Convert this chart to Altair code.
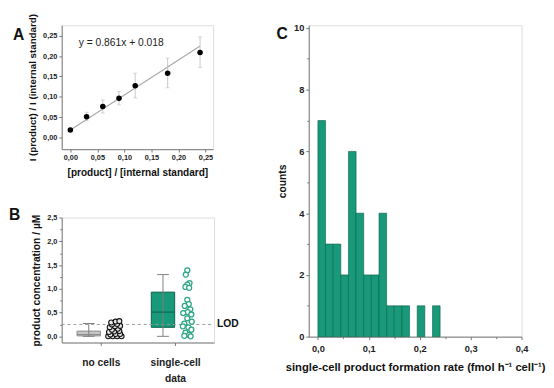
import altair as alt
import pandas as pd

FONT = "Liberation Sans"

# ---------------- Panel A: calibration ----------------
cal_x = [0.00, 0.03, 0.06, 0.09, 0.12, 0.18, 0.24]
cal_y = [0.018, 0.051, 0.076, 0.096, 0.127, 0.158, 0.209]
cal_lo = [0.015, 0.041, 0.060, 0.080, 0.097, 0.122, 0.172]
cal_hi = [0.021, 0.062, 0.092, 0.113, 0.158, 0.195, 0.247]
fit_x = [0.00, 0.24]
fit_y = [0.018, 0.225]
eq_text = ["y = 0.861x + 0.018"]
eq_x = [0.094]
eq_y = [0.231]
axA_ticks = [0.00, 0.05, 0.10, 0.15, 0.20, 0.25]

# ---------------- Panel B: box plots ----------------
groups = ["no cells", "single-cell data"]
group_c = [1.0, 3.0]
box_lo = [0.00, 0.00]
box_q1 = [0.01, 0.19]
box_med = [0.04, 0.51]
box_q3 = [0.11, 0.93]
box_hi = [0.27, 1.30]
nc_vals = [0.00, 0.00, 0.00, 0.00, 0.04, 0.05, 0.05, 0.09, 0.10, 0.11,
           0.14, 0.16, 0.19, 0.21, 0.22, 0.25, 0.26, 0.29, 0.31, 0.32]
nc_dx = [0.20, 0.32, 0.44, 0.56, 0.26, 0.40, 0.52, 0.22, 0.36, 0.50,
         0.30, 0.46, 0.24, 0.38, 0.52, 0.30, 0.44, 0.28, 0.40, 0.50]
sc_vals = [1.39, 1.30, 1.12, 1.09, 1.04, 1.02, 0.77, 0.68, 0.64, 0.57, 0.51, 0.49,
           0.46, 0.38, 0.31, 0.27, 0.21, 0.19, 0.14, 0.08, 0.03, 0.01, 0.00]
sc_dx = [0.33, 0.29, 0.39, 0.33, 0.28, 0.38, 0.33, 0.37, 0.26, 0.41, 0.34, 0.22,
         0.44, 0.33, 0.45, 0.25, 0.21, 0.36, 0.44, 0.28, 0.38, 0.25, 0.42]
lod_value = [0.25]
lod_label = ["LOD"]
axB_ticks = [0.0, 0.5, 1.0, 1.5, 2.0, 2.5]
axB_minor = [0.25, 0.75, 1.25, 1.75, 2.25]

# ---------------- Panel C: histogram ----------------
bin_lo = [0.000, 0.015, 0.030, 0.045, 0.060, 0.075, 0.090, 0.105,
          0.120, 0.135, 0.150, 0.165, 0.180, 0.195, 0.210, 0.225]
bin_counts = [7, 3, 3, 2, 6, 4, 2, 2, 4, 1, 1, 1, 0, 1, 0, 1]
bin_width = 0.015
axCx_ticks = [0.0, 0.1, 0.2, 0.3, 0.4]
axCx_minor = [0.05, 0.15, 0.25, 0.35]
axCy_ticks = [0, 2, 4, 6, 8, 10]
axCy_minor = [1, 3, 5, 7, 9]

GREEN = "#17997a"
GREEN_DARK = "#0c5f49"
DOT_GREEN = "#2aa585"
AX = "#777777"


def comma(fmt):
    return f"replace(format(datum.value, '{fmt}'), '.', ',')"


def axis(**kw):
    base = dict(domainColor=AX, tickColor=AX, labelFont=FONT, labelFontWeight="bold",
                labelColor="#222", titleFont=FONT, titleFontWeight="bold", titleColor="#111",
                grid=False, tickSize=3, labelPadding=2, labelOverlap=False, labelFlush=False,
                tickCount=20)
    base.update(kw)
    return alt.Axis(**base)


def minor_axis(orient, values):
    return alt.Axis(orient=orient, values=values, labels=False, domain=False, grid=False,
                    tickSize=2, tickColor=AX, title=None, tickCount=20)


def letter(ch, dx, dy):
    return alt.Chart(pd.DataFrame({"t": [ch]})).mark_text(
        font=FONT, fontWeight="bold", fontSize=16, align="left", baseline="top", color="#111"
    ).encode(text="t:N", x=alt.value(dx), y=alt.value(dy))


# ---------- Panel A ----------
dfA = pd.DataFrame({"x": cal_x, "y": cal_y, "lo": cal_lo, "hi": cal_hi})
dfFit = pd.DataFrame({"x": fit_x, "y": fit_y})
dfEq = pd.DataFrame({"x": eq_x, "y": eq_y, "t": eq_text})

xA = alt.X("x:Q", scale=alt.Scale(domain=[-0.016, 0.264], nice=False, zero=False),
           axis=axis(values=axA_ticks, labelExpr=comma(".2f"), labelFontSize=7.5,
                     title="[product] / [internal standard]", titleFontSize=10.3, titlePadding=6))
yA = alt.Y("y:Q", scale=alt.Scale(domain=[-0.029, 0.276], nice=False, zero=False),
           axis=axis(values=axA_ticks, labelExpr=comma(".2f"), labelFontSize=7.5,
                     title="I (product) / I (internal standard)", titleFontSize=10, titlePadding=5))

fitA = alt.Chart(dfFit).mark_line(color="#aaaaaa", strokeWidth=1.2).encode(x=xA, y=yA)
errA = alt.Chart(dfA).mark_rule(color="#bbbbbb", strokeWidth=0.8).encode(
    x="x:Q", y="lo:Q", y2="hi:Q")
capLo = alt.Chart(dfA).mark_tick(color="#bbbbbb", orient="horizontal", size=4, thickness=0.8).encode(
    x="x:Q", y="lo:Q")
capHi = alt.Chart(dfA).mark_tick(color="#bbbbbb", orient="horizontal", size=4, thickness=0.8).encode(
    x="x:Q", y="hi:Q")
ptsA = alt.Chart(dfA).mark_circle(color="#000000", size=32, opacity=1).encode(x="x:Q", y="y:Q")
eqA = alt.Chart(dfEq).mark_text(font=FONT, fontSize=10.5, color="#222", align="center").encode(
    x="x:Q", y="y:Q", text="t:N")

panelA = alt.layer(fitA, errA, capLo, capHi, ptsA, eqA, letter("A", -50, 2)).properties(
    width=155, height=127)

# ---------- Panel B ----------
dfBox = pd.DataFrame({"g": groups, "c": group_c, "lo": box_lo, "q1": box_q1,
                      "med": box_med, "q3": box_q3, "hi": box_hi})
dfBox["x0"] = dfBox["c"] - 0.64
dfBox["x1"] = dfBox["c"] - 0.01
dfBox["xm"] = dfBox["c"] - 0.325
dfBox["cap0"] = dfBox["xm"] - 0.16
dfBox["cap1"] = dfBox["xm"] + 0.16
dfBox["fill"] = ["#c8c8c8", GREEN]
dfBox["edge"] = ["#8a8a8a", GREEN_DARK]

dfNC = pd.DataFrame({"v": nc_vals, "x": [group_c[0] + d for d in nc_dx]})
dfSC = pd.DataFrame({"v": sc_vals, "x": [group_c[1] + d for d in sc_dx]})
dfLOD = pd.DataFrame({"v": lod_value, "t": lod_label})

xB = alt.X("x0:Q", scale=alt.Scale(domain=[-0.053, 4.05], nice=False, zero=False),
           axis=axis(values=group_c, orient="bottom",
                     labelExpr="datum.value < 2 ? 'no cells' : ['single-cell', 'data']",
                     labelFontSize=10.5, labelPadding=13, labelLineHeight=16, title=None))
yB = alt.Y("q1:Q", scale=alt.Scale(domain=[-0.13, 2.5], nice=False, zero=False),
           axis=axis(values=axB_ticks, orient="left", labelExpr=comma(".1f"), labelFontSize=7.5,
                     title="product concentration / µM", titleFontSize=10.5, titlePadding=5))

lodRule = alt.Chart(dfLOD).mark_rule(color="#999999", strokeDash=[3, 3], strokeWidth=1).encode(
    y=alt.Y("v:Q", axis=None), x=alt.value(0), x2=alt.value(156))
lodText = alt.Chart(dfLOD).mark_text(font=FONT, fontWeight="bold", fontSize=10.5, align="left",
                                     baseline="middle", color="#111").encode(
    y=alt.Y("v:Q", axis=None), x=alt.value(159), text="t:N")
whisk = alt.Chart(dfBox).mark_rule(color="#808080", strokeWidth=1).encode(
    x=alt.X("xm:Q", axis=None), y=alt.Y("lo:Q", axis=None), y2="hi:Q")
capTop = alt.Chart(dfBox).mark_rule(color="#808080", strokeWidth=1).encode(
    x=alt.X("cap0:Q", axis=None), x2="cap1:Q", y=alt.Y("hi:Q", axis=None))
capBot = alt.Chart(dfBox).mark_rule(color="#808080", strokeWidth=1).encode(
    x=alt.X("cap0:Q", axis=None), x2="cap1:Q", y=alt.Y("lo:Q", axis=None))
boxes = alt.Chart(dfBox).mark_rect(strokeWidth=1).encode(
    x=xB, x2="x1:Q", y=yB, y2="q3:Q",
    fill=alt.Fill("fill:N", scale=None), stroke=alt.Stroke("edge:N", scale=None))
medians = alt.Chart(dfBox).mark_rule(strokeWidth=1).encode(
    x=alt.X("x0:Q", axis=None), x2="x1:Q", y=alt.Y("med:Q", axis=None),
    stroke=alt.Stroke("edge:N", scale=None))
dotsNC = alt.Chart(dfNC).mark_point(shape="circle", size=26, filled=False, fill="#e6e6e6",
                                    stroke="#111111", strokeWidth=1.1, opacity=1).encode(
    x=alt.X("x:Q", axis=None), y=alt.Y("v:Q", axis=None))
dotsSC = alt.Chart(dfSC).mark_point(shape="circle", size=26, filled=False, fill="#ffffff",
                                    stroke=DOT_GREEN, strokeWidth=1.3, opacity=1).encode(
    x=alt.X("x:Q", axis=None), y=alt.Y("v:Q", axis=None))
minorB = alt.Chart(dfBox).mark_point(opacity=0).encode(
    x=alt.X("xm:Q", axis=None), y=alt.Y("med:Q", axis=minor_axis("left", axB_minor)))

panelB = alt.layer(boxes, lodRule, whisk, capTop, capBot, medians, dotsNC, dotsSC, lodText,
                   minorB, letter("B", -54, -10)).resolve_axis(
    x="independent", y="independent").properties(width=156, height=128)

# ---------- Panel C ----------
dfC = pd.DataFrame({"lo": bin_lo, "n": bin_counts})
dfC["hi"] = dfC["lo"] + bin_width
dfC = dfC[dfC["n"] > 0]

barsC = alt.Chart(dfC).mark_rect(fill=GREEN, stroke=GREEN_DARK, strokeWidth=0.6).encode(
    x=alt.X("lo:Q", scale=alt.Scale(domain=[-0.018, 0.4], nice=False, zero=False),
            axis=axis(values=axCx_ticks, orient="bottom", labelExpr=comma(".1f"), labelFontSize=9.5,
                      labelPadding=4,
                      title="single-cell product formation rate (fmol h\u207b\u00b9 cell\u207b\u00b9)",
                      titleFontSize=11.5, titlePadding=9)),
    x2="hi:Q",
    y=alt.Y("n:Q", scale=alt.Scale(domain=[0, 10.09], nice=False),
            axis=axis(values=axCy_ticks, orient="left", format="d", labelFontSize=9.5,
                      title="counts", titleFontSize=10.5, titlePadding=6)),
    y2=alt.datum(0),
)
minorC = alt.Chart(dfC).mark_point(opacity=0).encode(
    x=alt.X("lo:Q", axis=minor_axis("bottom", axCx_minor)),
    y=alt.Y("n:Q", axis=minor_axis("left", axCy_minor)),
)

panelC = alt.layer(barsC, minorC, letter("C", -33, 1)).resolve_axis(
    x="independent", y="independent").properties(width=218, height=319)

left = alt.vconcat(panelA, panelB, spacing=70, bounds="flush")
chart = alt.hconcat(left, panelC, spacing=37).properties(
    padding={"left": 0, "top": 0, "right": 0, "bottom": 0}
).configure_view(stroke=None).configure(background="white")

chart.save("out.html", embed_options={"renderer": "svg", "actions": False})
